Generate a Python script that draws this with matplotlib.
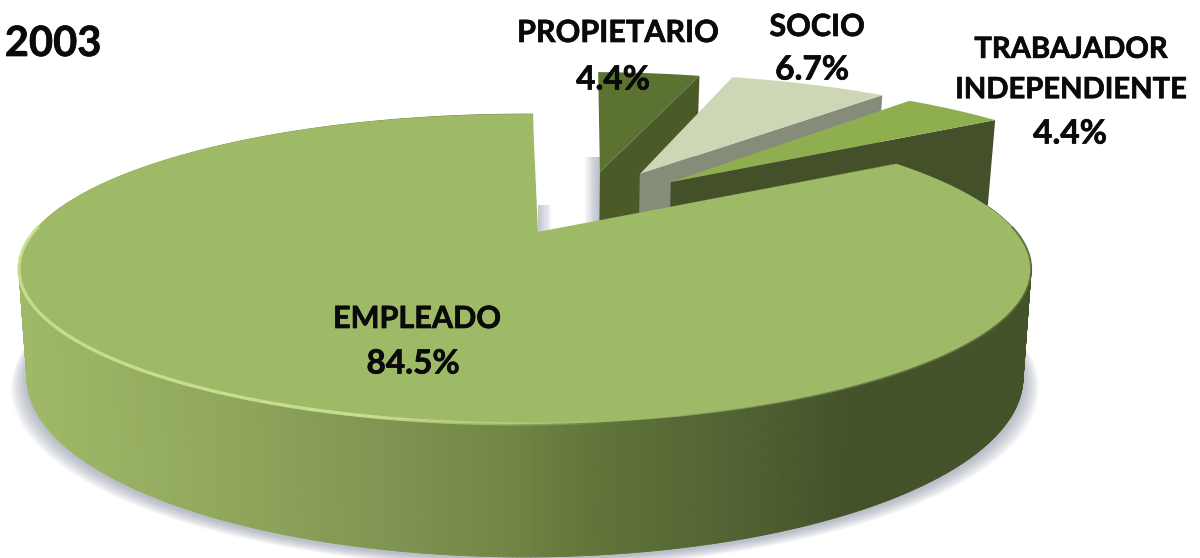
import numpy as np
import matplotlib
matplotlib.use("Agg")
import matplotlib.pyplot as plt
import matplotlib.patheffects as pe
from matplotlib.collections import PolyCollection, LineCollection
from matplotlib.colors import LinearSegmentedColormap, to_rgba

# data
categories = ["PROPIETARIO", "SOCIO", "TRABAJADOR\nINDEPENDIENTE", "EMPLEADO"]
shares = [4.4, 6.7, 4.4, 84.5]
year = "2003"

# explosion of each slice (radius, direction in degrees) and small turn of its edges
explode_r = [0.4876, 0.506, 0.486, 0.0146]
explode_dir = [72.9, 62.7, 52.3, 74.0]
turn_start = [-1.4, -1.2, -1.0, -1.85]
turn_end = [-1.3, -1.4, -0.5, -1.1]
top_colors = ["#5c7231", "#cdd7b6", "#8fae50", "#9fba67"]
wall_colors = ["#4a5b27", "#868c7a", "#43502a", "#8ea75b"]

# label places
name_xy = [(618, 33), (817, 27), (1071, 70), (417, 319)]
name_size = [22, 22, 21, 22]
pct_xy = [(613, 80), (812, 70), (1070, 134), (413, 364)]

# pie projection, pixels
CX, CY = 536, 234
CX_BIG = 525
A, B, K = 493, 147, 0.226
DEPTH, SHRINK = 103, 0.016

side_cmap = LinearSegmentedColormap.from_list("side", [
    (0.00, "#a0b968"), (0.20, "#90a75c"), (0.38, "#7e9350"), (0.48, "#728645"),
    (0.58, "#5f7339"), (0.70, "#526433"), (0.82, "#44522a"), (1.00, "#44522a")])


def project(u, v, low=False, cx=CX):
    sx = cx + A * u / (1 + K * v)
    sy = CY - B * v / (1 + K * v)
    if low:
        sx = cx + (sx - cx) * (1 - SHRINK)
        sy = sy + DEPTH / (1 + K * v)
    return np.column_stack([sx, sy])


fig = plt.figure(figsize=(12, 5.58), dpi=100)
ax = fig.add_axes([0, 0, 1, 1])
ax.set_xlim(0, 1200)
ax.set_ylim(558, 0)
ax.axis("off")

# slice angles, clockwise from the top
ends = 90 - np.cumsum(shares) * 3.6
starts = np.r_[90, ends[:-1]]

# soft shadow below the front of the disc
t = np.radians(np.linspace(170, 370, 201))
base = project(np.cos(t), np.sin(t), low=True, cx=CX_BIG)
for grow in np.linspace(16, 1, 12):
    outline = np.column_stack([CX_BIG + (base[:, 0] - CX_BIG) * (1 + grow / 500), base[:, 1] + grow * 0.55 + 2])
    ax.fill(outline[:, 0], outline[:, 1], color="#7d8498", alpha=0.055, lw=0, zorder=1)

# exploded slices, far to near, the big one last
for i in range(4):
    off_u = explode_r[i] * np.cos(np.radians(explode_dir[i]))
    off_v = explode_r[i] * np.sin(np.radians(explode_dir[i]))
    apex = project(np.array([off_u]), np.array([off_v]))
    apex_low = project(np.array([off_u]), np.array([off_v]), low=True)
    z = 3 + i * 2

    if i < 3:
        t = np.radians(np.linspace(starts[i] + turn_start[i], ends[i] + turn_end[i], 60))
        u = off_u + np.cos(t)
        v = off_v + np.sin(t)
        top_pts = project(u, v)
        low_pts = project(u, v, low=True)
        # grey shade on the gap left of the slice
        if i == 0:
            for w in np.linspace(15, 2, 8):
                ax.fill([apex[0, 0] - w, apex[0, 0], apex[0, 0], apex[0, 0] - w],
                        [apex[0, 1] - 15, apex[0, 1] - 15, apex_low[0, 1], apex_low[0, 1]],
                        color="#7d8498", alpha=0.08, lw=0, zorder=2)
        wall = np.vstack([apex, top_pts[-1:], low_pts[-1:], apex_low])
        ax.fill(wall[:, 0], wall[:, 1], color=wall_colors[i], lw=0, zorder=z)
    else:
        # grey shade right of the cut
        for w in np.linspace(13, 2, 6):
            ax.fill([apex[0, 0], apex[0, 0] + w, apex[0, 0] + w, apex[0, 0]],
                    [apex[0, 1] - 27, apex[0, 1] - 27, apex[0, 1], apex[0, 1]],
                    color="#7d8498", alpha=0.09, lw=0, zorder=2)
        # outer side of the big slice, one strip per step
        t = np.radians(np.linspace(starts[i] + turn_start[i], ends[i] + turn_end[i], 721))
        u = np.cos(t)
        v = np.sin(t)
        top_pts = project(u, v, cx=CX_BIG)
        low_pts = project(u, v, low=True, cx=CX_BIG)
        quads = [[top_pts[j], top_pts[j + 1], low_pts[j + 1], low_pts[j]] for j in range(len(t) - 1)]
        mid_x = (top_pts[:-1, 0] + top_pts[1:, 0]) / 2
        cols = side_cmap(np.clip((mid_x - 20) / 1010, 0, 1))
        order = np.argsort(-v[:-1])
        ax.add_collection(PolyCollection([quads[j] for j in order], facecolors=cols[order],
                                         edgecolors=cols[order], linewidths=0.6, zorder=z))

    surface = np.vstack([apex, top_pts])
    ax.fill(surface[:, 0], surface[:, 1], color=top_colors[i], lw=0, zorder=z + 1)

    if i == 3:
        # bevel on the cut and on the rim
        cut = np.vstack([top_pts[0], apex[0], apex[0] + [-10, 2], top_pts[0] + [-2, 0]])
        ax.fill(cut[:, 0], cut[:, 1], color=wall_colors[i], lw=0, zorder=z + 2)
        segs = np.stack([top_pts[:-1], top_pts[1:]], axis=1)
        mid_x = (top_pts[:-1, 0] + top_pts[1:, 0]) / 2
        front = np.sin(t[:-1]) < 0.05
        fade = np.clip((620 - mid_x) / 250, 0, 1) * front
        rgba = np.tile(to_rgba("#cfe596"), (len(segs), 1))
        rgba[:, 3] = fade * 0.9
        ax.add_collection(LineCollection(segs, colors=rgba, linewidths=2.4, zorder=z + 2))
        fade = np.clip((mid_x - 620) / 250, 0, 1) * front
        rgba = np.tile(to_rgba("#55663a"), (len(segs), 1))
        rgba[:, 3] = fade * 0.8
        ax.add_collection(LineCollection(segs, colors=rgba, linewidths=1.5, zorder=z + 2))

# labels
heavy = [pe.withStroke(linewidth=0.5, foreground="#0a0a0a")]
font = dict(family="Lato", weight="bold", color="#0a0a0a", ha="center", va="center", zorder=20,
            path_effects=heavy)
for i, name in enumerate(categories):
    ax.text(name_xy[i][0], name_xy[i][1], name, fontsize=name_size[i], linespacing=1.68, **font)
    ax.text(pct_xy[i][0], pct_xy[i][1], f"{shares[i]:.1f}%", fontsize=24, **font)
ax.text(53, 44, year, fontsize=30, **font)

fig.savefig("out.png", dpi=100)
